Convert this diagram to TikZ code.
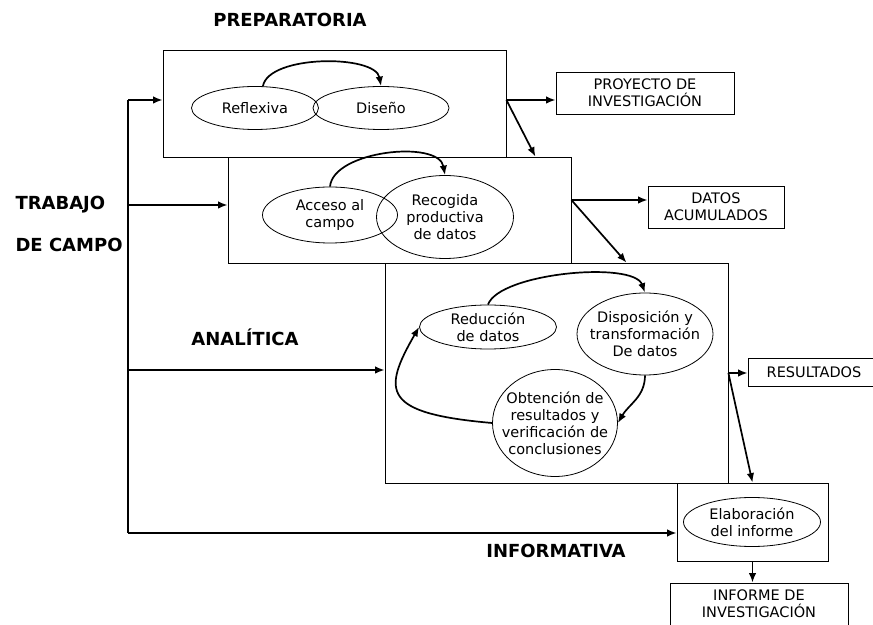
\documentclass[tikz,border=0pt]{standalone}
\usepackage{fontspec}
\setmainfont{DejaVu Sans}
\usetikzlibrary{calc,positioning,arrows.meta,shapes.geometric}

\begin{document}
\begin{tikzpicture}[x=1pt,y=1pt,>={Latex[length=9.5pt,width=7.5pt]},
  every node/.style={font=\fontsize{14.5}{17}\selectfont},
  fase/.style={draw,rectangle,inner sep=0pt,line width=0.8pt},
  etapa/.style={draw,ellipse,inner sep=0pt,line width=0.8pt},
  salida/.style={draw,rectangle,inner sep=0pt,line width=0.8pt,align=center},
  titulo/.style={font=\bfseries\fontsize{18}{20}\selectfont},
  flecha/.style={->,line width=1.7pt}]
\useasboundingbox (0,0) rectangle (873,624);

% fases
\node[fase,minimum width=343pt,minimum height=107pt] (prep) at (334.5,520.5) {};
\node[fase,minimum width=343pt,minimum height=106pt] (campo) at (399.5,414) {};
\node[fase,minimum width=343pt,minimum height=220pt] (anal) at (556.5,251) {};
\node[fase,minimum width=151pt,minimum height=78pt] (info) at (752.5,102) {};

% titulos
\node[titulo] (tprep) at (290,604) {PREPARATORIA};
\node[titulo,anchor=west] (ttrab) at (12,419) {TRABAJO};
\node[titulo,anchor=west] (tcampo) at (12,379) {DE CAMPO};
\node[titulo] (tanal) at (245,287) {ANALÍTICA};
\node[titulo] (tinfo) at (556,73) {INFORMATIVA};

% etapas
\node[etapa,minimum width=127pt,minimum height=43pt,label={center:Reflexiva}] (refl) at (255,516) {};
\node[etapa,minimum width=136pt,minimum height=43pt,label={center:Diseño}] (dise) at (381,516) {};
\node[etapa,minimum width=135pt,minimum height=56pt,label={[align=center]center:Acceso al\\campo}] (acc) at (330,409) {};
\node[etapa,minimum width=137pt,minimum height=83pt,label={[align=center]center:Recogida\\productiva\\de datos}] (recog) at (445,407) {};
\node[etapa,minimum width=137pt,minimum height=44pt,label={[align=center]center:Reducción\\de datos}] (reduc) at (488,297) {};
\node[etapa,minimum width=136pt,minimum height=82pt,label={[align=center]center:Disposición y\\transformación\\De datos}] (dispo) at (645,290) {};
\node[etapa,minimum width=125pt,minimum height=107pt,label={[align=center]center:Obtención de\\resultados y\\verificación de\\conclusiones}] (obten) at (555,201) {};
\node[etapa,minimum width=137pt,minimum height=49pt,label={[align=center]center:Elaboración\\del informe}] (elab) at (752,102) {};

% salidas
\node[salida,minimum width=178pt,minimum height=42pt] (proy) at (645,531) {PROYECTO DE\\INVESTIGACIÓN};
\node[salida,minimum width=136pt,minimum height=42pt] (datos) at (716,417) {DATOS\\ACUMULADOS};
\node[salida,minimum width=132pt,minimum height=28pt] (res) at (814,252) {RESULTADOS};
\node[salida,minimum width=178pt,minimum height=42pt] (inf) at (759,20) {INFORME DE\\INVESTIGACIÓN};

% linea de trabajo de campo
\coordinate (t1) at (128,524);
\coordinate (t2) at (128,419);
\coordinate (t3) at (128,254);
\coordinate (t4) at (128,91);
\draw[line width=1.7pt] (t1) -- (t4);
\foreach \t/\f in {t1/prep,t2/campo,t3/anal,t4/info}
  \draw[flecha] (\t) -- (\t -| \f.west);

% salidas de cada fase
\coordinate (s1) at ([yshift=3.5pt]prep.east);
\coordinate (s2) at ([yshift=10pt]campo.east);
\draw[flecha] (s1) -- (s1 -| proy.west);
\draw[flecha] (s1) -- ([xshift=-36pt]campo.north east);
\draw[flecha] (s2) -- (s2 -| datos.west);
\draw[flecha] (s2) -- ([xshift=70pt]anal.north);
\draw[flecha] (anal.east) -- (anal.east -| res.west);
\draw[flecha] (anal.east) -- (info.north);
\draw[flecha] (info.south) -- (info.south |- inf.north);

% ciclos dentro de las fases
\draw[flecha] (refl.70) to[out=80,in=100,looseness=0.7] (dise.north);
\draw[flecha] (acc.north) to[out=85,in=100,looseness=0.8] (recog.north);
\draw[flecha] (reduc.north) to[out=70,in=110,looseness=0.55] (dispo.north);
\draw[flecha] (dispo.south) to[out=-90,in=60] (obten.east);
\draw[flecha] (obten.west) .. controls +(175:110) and +(240:75) .. (reduc.west);
\end{tikzpicture}
\end{document}
